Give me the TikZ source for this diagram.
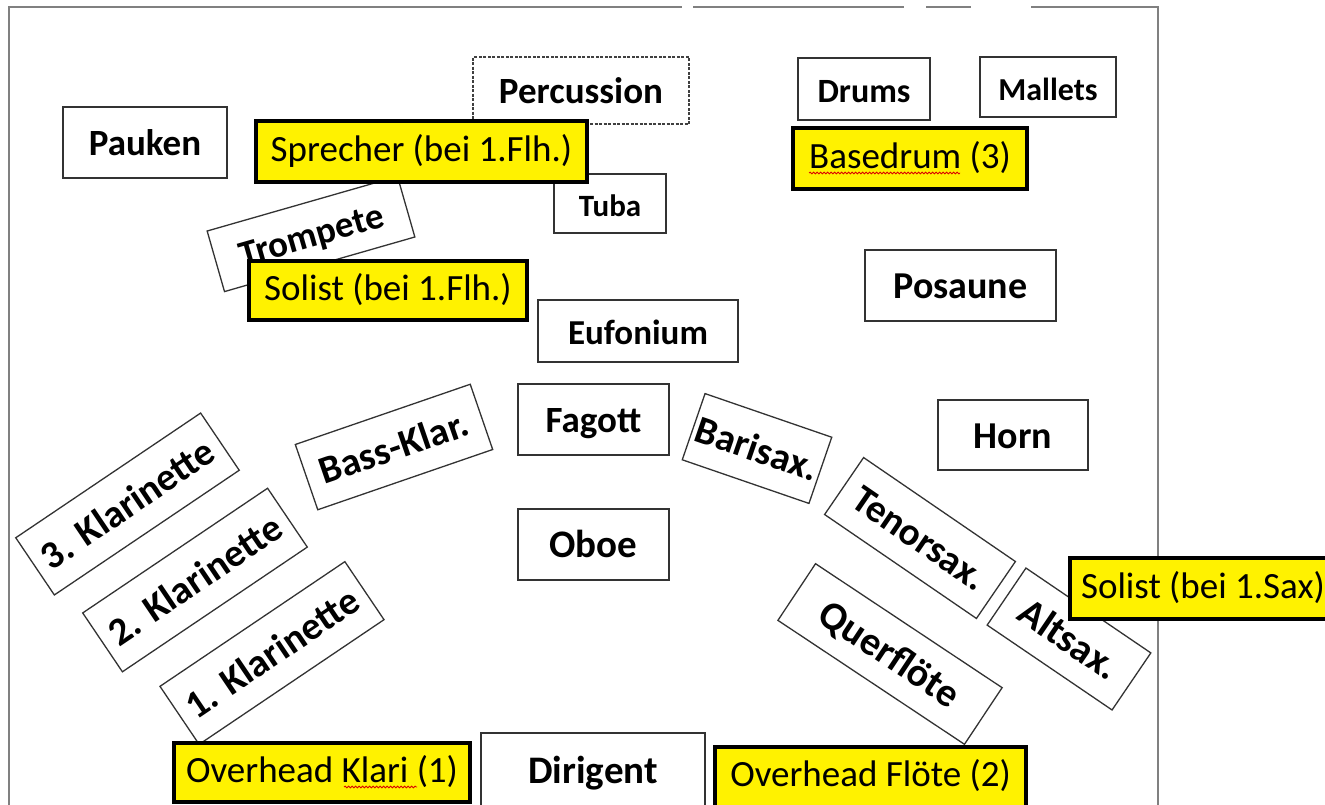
\documentclass[tikz,border=0pt]{standalone}
\usepackage{fontspec}
\setmainfont{Carlito}
\usetikzlibrary{decorations.pathmorphing}
\begin{document}
\begin{tikzpicture}[x=1pt,y=-1pt,
  part/.style={draw=black!80, line width=1.3pt, fill=white, inner sep=0pt,
    text height=32pt, text depth=5.5pt,
    font=\bfseries\fontsize{37}{40}\selectfont},
  note/.style={draw=black, line width=3.5pt, fill=yellow, inner sep=0pt,
    text height=28pt, text depth=9pt,
    font=\fontsize{37}{40}\selectfont},
  sz/.style 2 args={minimum width=#1pt, minimum height=#2pt},
  fs/.style={font=\bfseries\fontsize{#1}{#1}\selectfont},
  frameline/.style={draw=black!50, line width=1.8pt},
  squiggle/.style={draw=red!85!black, line width=0.8pt, decorate,
    decoration={snake, amplitude=0.9pt, segment length=3.5pt}},
]
\useasboundingbox (0,0) rectangle (1325,804);
\clip (0,0) rectangle (1325,804);

% stage frame
\coordinate (fBL) at (9,820);
\coordinate (fTL) at (9,7);
\coordinate (fA) at (682,7);
\coordinate (fB) at (693,7);
\coordinate (fC) at (904,7);
\coordinate (fD) at (926,7);
\coordinate (fE) at (971,7);
\coordinate (fF) at (1031,7);
\coordinate (fTR) at (1158,7);
\coordinate (fBR) at (1158,820);
\draw[frameline] (fBL) -- (fTL) -- (fA);
\draw[frameline] (fB) -- (fC);
\draw[frameline] (fD) -- (fE);
\draw[frameline] (fF) -- (fTR) -- (fBR);

% upright instrument cards
\node[part, sz={164}{71}] (pauken) at (145,142.5) {Pauken};
\node[part, sz={216}{67}, draw=black!75, line width=1.6pt, dash pattern=on 3pt off 1.5pt] (perc) at (581,90.5) {Percussion};
\node[part, sz={112}{59}, fs=31] (tuba) at (610,203.5) {Tuba};
\node[part, sz={132}{62}, fs=34] (drums) at (864,89) {Drums};
\node[part, sz={136}{60}, fs=32] (mallets) at (1048,87) {Mallets};
\node[part, sz={191}{71}, fs=38] (posaune) at (960.5,285.5) {Posaune};
\node[part, sz={200}{62}, fs=35] (eufonium) at (638,331) {Eufonium};
\node[part, sz={151}{71}] (fagott) at (593.5,419.5) {Fagott};
\node[part, sz={151}{71}, fs=39] (oboe) at (593.5,544.5) {Oboe};
\node[part, sz={150}{70}, fs=38] (horn) at (1013,435) {Horn};
\node[part, sz={224}{74}, fs=39] (dirigent) at (593,770) {Dirigent};

% rotated instrument cards
\node[part, sz={198}{63}, rotate=16] (trompete) at (311,234) {Trompete};
\node[part, sz={185}{69}, rotate=19, fs=39] (bassklar) at (394,447) {Bass-Klar.};
\node[part, sz={223}{69}, rotate=34, fs=39] (klar3) at (127.5,504) {3. Klarinette};
\node[part, sz={223}{71}, rotate=34, fs=39] (klar2) at (195,580) {2. Klarinette};
\node[part, sz={223}{70}, rotate=34, fs=39] (klar1) at (272,653) {1. Klarinette};
\node[part, sz={134}{70}, rotate=-19, fs=39] (barisax) at (757,448.5) {Barisax.};
\node[part, sz={184}{69}, rotate=-34.4, fs=39] (tenorsax) at (920,538) {Tenorsax.};
\node[part, sz={224}{68}, rotate=-33.6, fs=40] (querfloete) at (890,654) {Querflöte};
\node[part, sz={151}{69}, rotate=-34.2, fs=40] (altsax) at (1069,639) {Altsax.};

% yellow notes for microphones and soloists
\node[note, sz={331}{61}] (sprecher) at (421.5,151.5) {Sprecher (bei 1.Flh.)};
\node[note, sz={278}{59}] (solistflh) at (388,290.5) {Solist (bei 1.Flh.)};
\node[note, sz={234}{61}] (basedrum) at (910,158.5) {Basedrum (3)};
\node[note, sz={266}{61}] (solistsax) at (1203,588.5) {Solist (bei 1.Sax)};
\node[note, sz={296}{59}] (ohklari) at (322,772.5) {Overhead Klari (1)};
\node[note, sz={311}{60}] (ohfloete) at (870.5,777) {Overhead Flöte (2)};

% spell-check marks under two words
\coordinate (sqA) at (809,173);
\coordinate (sqB) at (960,173);
\coordinate (sqC) at (344,787);
\coordinate (sqD) at (417,787);
\draw[squiggle] (sqA) -- (sqB);
\draw[squiggle] (sqC) -- (sqD);
\end{tikzpicture}
\end{document}
